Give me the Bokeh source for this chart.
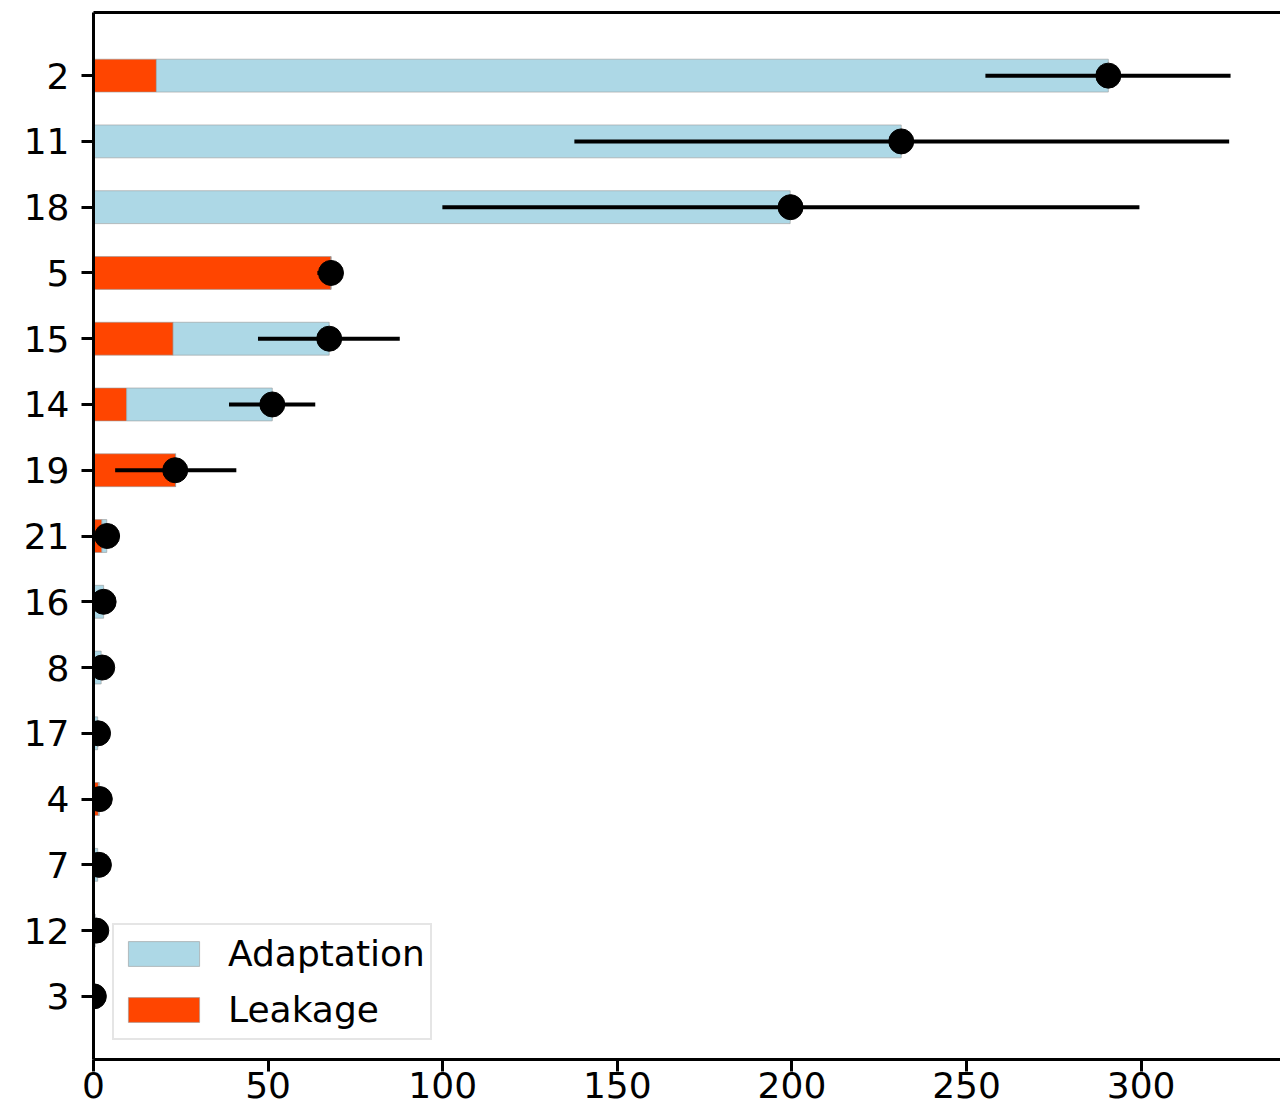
from bokeh.plotting import figure
from bokeh.models import (FactorRange, Range1d, LinearAxis, Legend, LegendItem,
                          FixedTicker, ColumnDataSource)
from bokeh.embed import file_html
from bokeh.resources import INLINE

# ---- data (top to bottom) ----
categories = ["2", "11", "18", "5", "15", "14", "19", "21", "16", "8", "17", "4", "7", "12", "3"]
leakage    = [18.0, 0.0, 0.0, 68.0, 22.8, 9.5, 23.5, 2.4, 0.0, 0.0, 0.0, 1.4, 0.0, 0.0, 0.0]
adaptation = [272.6, 231.3, 199.5, 0.0, 44.7, 41.7, 0.0, 1.4, 2.9, 2.2, 1.2, 0.3, 1.2, 0.5, 0.1]
mean_val   = [290.6, 231.3, 199.6, 68.0, 67.5, 51.2, 23.4, 3.9, 2.9, 2.5, 1.3, 1.8, 1.55, 0.8, 0.1]
err_low    = [255.4, 137.7, 99.9, 64.1, 47.1, 38.8, 6.2, 3.0, 2.0, 1.8, 0.6, 1.0, 0.9, 0.3, 0.0]
err_high   = [325.6, 325.2, 299.5, 71.0, 87.7, 63.5, 40.9, 4.8, 3.8, 3.2, 2.0, 2.6, 2.2, 1.3, 0.3]
x_ticks    = [0, 50, 100, 150, 200, 250, 300]

FONT = "DejaVu Sans"
FS = "36px"

src = ColumnDataSource(dict(
    cat=categories,
    leak_end=list(leakage),
    total=[l + a for l, a in zip(leakage, adaptation)],
    mean=mean_val,
    lo=err_low,
    hi=err_high,
))

y_range = FactorRange(factors=list(reversed(categories)), range_padding=0.46,
                      range_padding_units="absolute")

p = figure(width=1280, height=1114, y_range=y_range, x_range=Range1d(0, 339.9),
           output_backend="svg", toolbar_location=None,
           min_border_left=93, min_border_top=12, min_border_bottom=55, min_border_right=0)
p.outline_line_color = None
p.xgrid.grid_line_color = None
p.ygrid.grid_line_color = None
p.background_fill_color = "white"
p.border_fill_color = "white"

r_leak = p.hbar(y="cat", left=0, right="leak_end", height=0.5, source=src,
                fill_color="#ff4500", line_color="#9a9a9a", line_alpha=0.6, line_width=1)
r_adapt = p.hbar(y="cat", left="leak_end", right="total", height=0.5, source=src,
                 fill_color="#add8e6", line_color="#9a9a9a", line_alpha=0.6, line_width=1)

p.segment(x0="lo", y0="cat", x1="hi", y1="cat", source=src, line_color="black", line_width=4)
p.scatter(x="mean", y="cat", source=src, size=25, fill_color="black", line_color="black")

for ax in (p.xaxis[0], p.yaxis[0]):
    ax.axis_line_width = 3
    ax.major_tick_line_width = 3
    ax.major_tick_out = 12
    ax.major_tick_in = 0
    ax.minor_tick_line_color = None
    ax.major_label_text_font = FONT
    ax.major_label_text_font_size = FS
    ax.major_label_text_color = "black"
    ax.axis_line_color = "black"
    ax.major_tick_line_color = "black"

p.xaxis[0].ticker = FixedTicker(ticks=x_ticks)
p.xaxis[0].major_label_standoff = 0
p.yaxis[0].major_label_standoff = 12

top = LinearAxis(ticker=FixedTicker(ticks=[]), axis_line_width=3, axis_line_color="black",
                 major_label_text_font_size="0px", major_tick_line_color=None,
                 minor_tick_line_color=None)
p.add_layout(top, "above")

legend = Legend(items=[LegendItem(label="Adaptation", renderers=[r_adapt]),
                       LegendItem(label="Leakage", renderers=[r_leak])],
                location="bottom_left")
legend.label_text_font = FONT
legend.label_text_font_size = FS
legend.label_text_color = "black"
legend.glyph_width = 89
legend.glyph_height = 31
legend.label_height = 47
legend.label_standoff = 20
legend.spacing = 9
legend.padding = 5
legend.margin = 19
legend.border_line_color = "#cccccc"
legend.border_line_width = 2
legend.background_fill_alpha = 0.8
p.add_layout(legend)

open("out.html", "w").write(file_html(p, INLINE))
